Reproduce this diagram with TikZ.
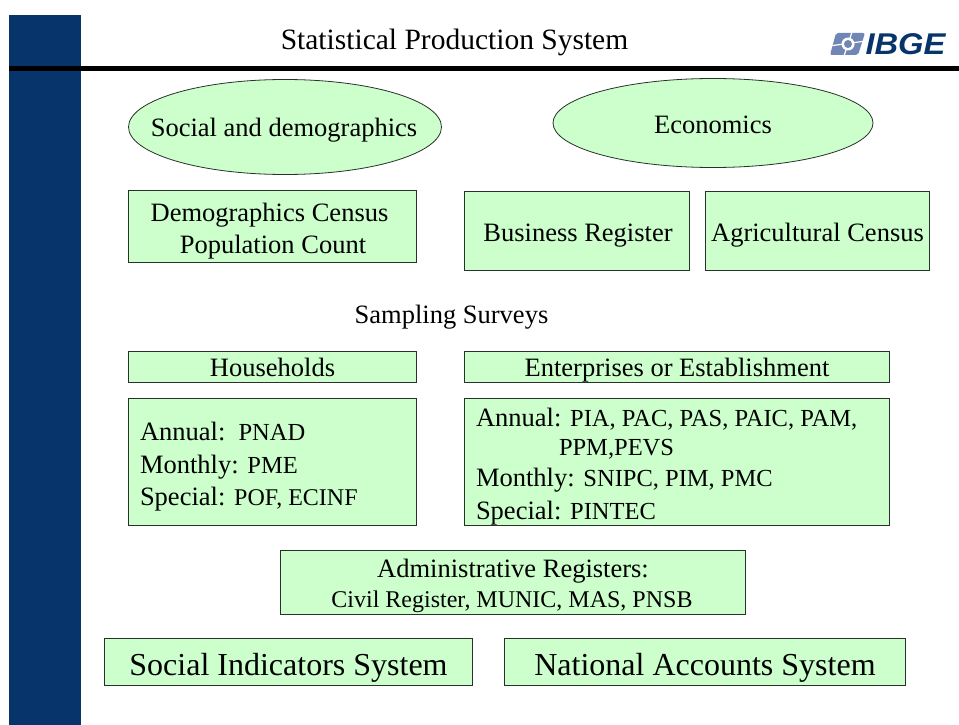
\documentclass[tikz,border=0pt]{standalone}
\usepackage{fontspec}
\setmainfont{Liberation Serif}
\newfontfamily\logofont{Liberation Sans}
\usetikzlibrary{shapes.geometric}
\definecolor{navy}{RGB}{7,53,107}
\definecolor{mint}{RGB}{204,255,204}
\definecolor{logoblue}{RGB}{112,134,180}
\definecolor{edge}{RGB}{40,50,40}
\newcommand{\lgtxt}{\fontsize{26.5}{31}\selectfont}
\newcommand{\mdtxt}{\fontsize{24.5}{31}\selectfont}
\newcommand{\smtxt}{\fontsize{24}{28}\selectfont}
\newcommand{\hgtxt}{\fontsize{32}{36}\selectfont}
\tikzset{
 boxs/.style={draw=edge,fill=mint,line width=0.8pt,inner sep=0pt,outer sep=0pt},
 oval/.style={boxs,ellipse},
 lab/.style={inner sep=0pt,outer sep=0pt,text=black,font=\lgtxt,anchor=base},
 lft/.style={inner sep=0pt,outer sep=0pt,text=black,font=\lgtxt,anchor=base west},
}
\begin{document}
\begin{tikzpicture}[x=1pt,y=-1pt]
\useasboundingbox (0,0) rectangle (959,725);
\fill[white] (0,0) rectangle (959,725);
\fill[navy] (9,15) rectangle (81,725);
\fill[black] (9,66) rectangle (959,71);
\node[lab,font=\fontsize{29.5}{32}\selectfont] (title) at (454.5,50) {Statistical Production System};
% logo
\fill[logoblue,rounded corners=2pt] (836,33) -- (865,33) -- (858,55) -- (830,55) -- cycle;
\draw[white,line width=1.2pt] (829,46) -- (866,41) (852,32) -- (844,56);
\fill[white] (848,44) circle (6.5pt);
\fill[logoblue] (848,44) circle (4pt);
\node[inner sep=0pt,text=navy,font=\logofont\fontsize{30}{32}\selectfont\bfseries\itshape,xscale=1.09] (logo) at (905.5,44) {IBGE};
% ovals
\node[oval,minimum width=313pt,minimum height=95pt] (social) at (285,127) {};
\node[lab] (socialtext) at (284,136.4) {Social and demographics};
\node[oval,minimum width=320pt,minimum height=89pt] (econ) at (713,123) {};
\node[lab] (econtext) at (713,133) {Economics};
% census row
\node[boxs,minimum width=288.5pt,minimum height=72pt] (census) at (272.5,226.7) {};
\node[lab] (censusa) at (269.5,221.4) {Demographics Census};
\node[lab] (censusb) at (273,253.4) {Population Count};
\node[boxs,minimum width=225pt,minimum height=79.5pt] (bizreg) at (577,230.7) {};
\node[lab] (biztext) at (578,241.9) {Business Register};
\node[boxs,minimum width=224pt,minimum height=79.5pt] (agri) at (817,230.7) {};
\node[lab] (agritext) at (817.5,241.9) {Agricultural Census};
\node[lab] (samp) at (451.5,323.4) {Sampling Surveys};
% headers
\node[boxs,minimum width=288.5pt,minimum height=31.5pt] (house) at (272.5,366.7) {};
\node[lab] (housetext) at (272.5,376.9) {Households};
\node[boxs,minimum width=425pt,minimum height=31.5pt] (ent) at (677,366.7) {};
\node[lab] (enttext) at (677,376.9) {Enterprises or Establishment};
% household list
\node[boxs,minimum width=288.5pt,minimum height=127.5pt] (hlist) at (272.5,462) {};
\node[lft] (ha) at (140,440) {Annual:\ \ {\mdtxt PNAD}};
\node[lft] (hb) at (140,473) {Monthly: {\mdtxt PME}};
\node[lft] (hc) at (140,505) {Special: {\fontsize{24}{31}\selectfont POF, ECINF}};
% enterprise list
\node[boxs,minimum width=425pt,minimum height=127.5pt] (elist) at (677,462) {};
\node[lft] (ea) at (476,426) {Annual: {\mdtxt PIA, PAC, PAS, PAIC, PAM,}};
\node[lft,font=\mdtxt] (eb) at (559,455) {PPM,PEVS};
\node[lft] (ec) at (476,486) {Monthly: {\mdtxt SNIPC, PIM, PMC}};
\node[lft] (ed) at (476,519) {Special: {\mdtxt PINTEC}};
% admin
\node[boxs,minimum width=465pt,minimum height=64pt] (admin) at (513,582) {};
\node[lab] (admina) at (513,577.9) {Administrative Registers:};
\node[lab,font=\smtxt] (adminb) at (512,607.4) {Civil Register, MUNIC, MAS, PNSB};
% bottom
\node[boxs,minimum width=368pt,minimum height=47pt] (soc) at (288.5,662) {};
\node[lab,font=\hgtxt] (soctext) at (288.5,675.4) {Social Indicators System};
\node[boxs,minimum width=401pt,minimum height=47pt] (nat) at (705,662) {};
\node[lab,font=\hgtxt] (nattext) at (705,675.4) {National Accounts System};
\end{tikzpicture}
\end{document}
